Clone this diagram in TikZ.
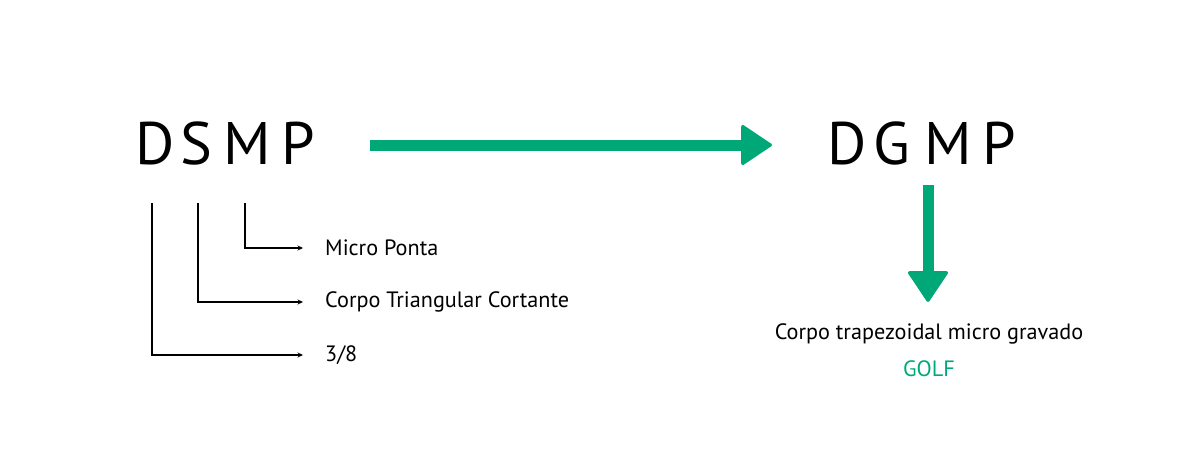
\documentclass[tikz,border=0pt]{standalone}
\usepackage{fontspec}
\setmainfont{PT Sans}
\usetikzlibrary{arrows.meta}
\definecolor{brandgreen}{RGB}{0,168,120}
\begin{document}
\begin{tikzpicture}[x=1pt,y=-1pt,
  bigletter/.style={inner sep=0pt,font=\fontsize{60}{60}\selectfont},
  label/.style={anchor=west,inner sep=0pt,font=\fontsize{22.2}{24}\selectfont},
  leader/.style={line width=1.1pt,-{Stealth[length=5.5pt,width=5pt]},shorten >=22pt},
  bigarrow/.style={draw=brandgreen,line width=11pt,-{Triangle[length=32pt,width=42pt,round,line width=3pt]}}
]
\useasboundingbox (0,0) rectangle (1200,450);
% left word
\node[bigletter] (L1) at (155,143.5) {D};
\node[bigletter] (L2) at (196.5,143.5) {S};
\node[bigletter] (L3) at (247.5,143.5) {M};
\node[bigletter] (L4) at (298.5,143.5) {P};
% right word
\node[bigletter] (R1) at (847,143.5) {D};
\node[bigletter] (R2) at (892,143.5) {G};
\node[bigletter] (R3) at (948.5,143.5) {M};
\node[bigletter] (R4) at (999.5,143.5) {P};
% labels
\node[label] (t1) at (325,248) {Micro Ponta};
\node[label] (t2) at (325,302) {Corpo Triangular Cortante};
\node[label] (t3) at (325,355) {3/8};
\node[inner sep=0pt,font=\fontsize{22.2}{24}\selectfont] (t4) at (929,334) {Corpo trapezoidal micro gravado};
\node[inner sep=0pt,font=\fontsize{22.2}{24}\selectfont,text=brandgreen] (t5) at (929,369) {GOLF};
% leader start points
\coordinate (c1) at (152,203);
\coordinate (c2) at (198,203);
\coordinate (c3) at (245,203);
\draw[leader] (c3) |- (t1.west);
\draw[leader] (c2) |- (t2.west);
\draw[leader] (c1) |- (t3.west);
% green arrows
\coordinate (g1) at (370,145);
\coordinate (g2) at (772,145);
\draw[bigarrow] (g1) -- (g2);
\coordinate (g3) at (928,185);
\coordinate (g4) at (928,302);
\draw[bigarrow] (g3) -- (g4);
\end{tikzpicture}
\end{document}
